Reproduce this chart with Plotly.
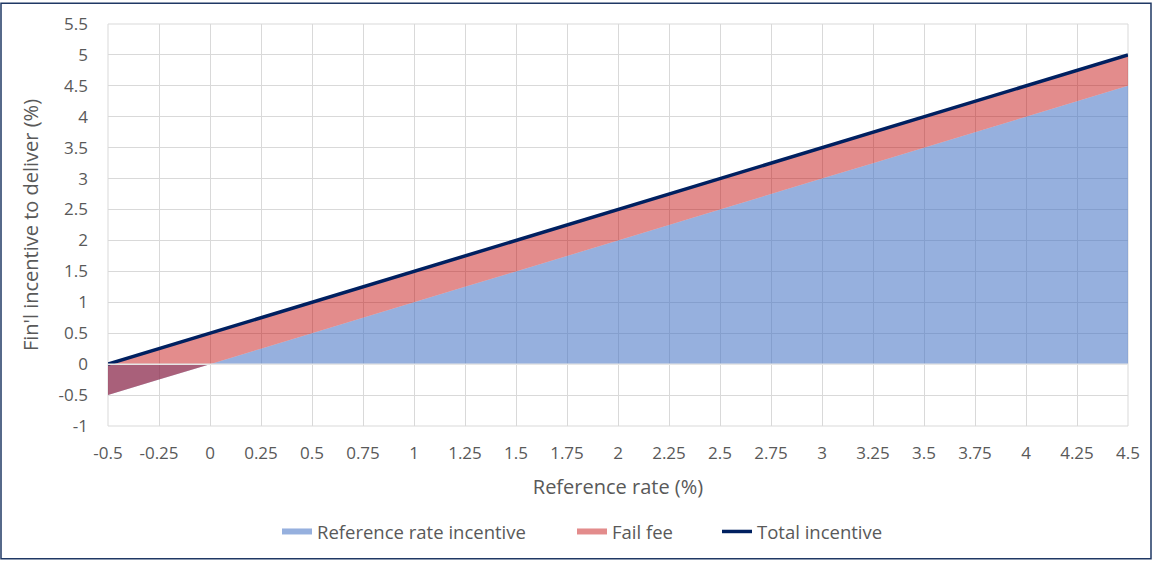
import plotly.graph_objects as go

# Reference rate (%) on the horizontal axis
reference_rate = [-0.5, -0.25, 0, 0.25, 0.5, 0.75, 1, 1.25, 1.5, 1.75, 2,
                  2.25, 2.5, 2.75, 3, 3.25, 3.5, 3.75, 4, 4.25, 4.5]
# Incentive components (%)
reference_rate_incentive = [-0.5, -0.25, 0, 0.25, 0.5, 0.75, 1, 1.25, 1.5, 1.75, 2,
                            2.25, 2.5, 2.75, 3, 3.25, 3.5, 3.75, 4, 4.25, 4.5]
fail_fee = [0.5] * 21
total_incentive = [0, 0.25, 0.5, 0.75, 1, 1.25, 1.5, 1.75, 2, 2.25, 2.5,
                   2.75, 3, 3.25, 3.5, 3.75, 4, 4.25, 4.5, 4.75, 5]

x_ticks = reference_rate
x_tick_labels = ["-0.5", "-0.25", "0", "0.25", "0.5", "0.75", "1", "1.25", "1.5", "1.75", "2",
                 "2.25", "2.5", "2.75", "3", "3.25", "3.5", "3.75", "4", "4.25", "4.5"]
y_ticks = [-1, -0.5, 0, 0.5, 1, 1.5, 2, 2.5, 3, 3.5, 4, 4.5, 5, 5.5]
y_tick_labels = ["-1", "-0.5", "0", "0.5", "1", "1.5", "2", "2.5", "3", "3.5", "4", "4.5", "5", "5.5"]

FONT = "Open Sans, Noto Sans, sans-serif"
TEXT = "#595959"
GRID = "#d9d9d9"

L, R, T, B = 108, 24, 22, 135
W, H = 1152, 563
pw, ph = W - L - R, H - T - B


def px_x(p):
    return (p - L) / pw


def px_y(p):
    return ((H - B) - p) / ph


fig = go.Figure()
fig.add_trace(go.Scatter(
    x=reference_rate, y=reference_rate_incentive, name="Reference rate incentive",
    stackgroup="inc", mode="none", fill="tozeroy",
    fillcolor="rgba(68,114,196,0.56)", legend="legend",
))
fig.add_trace(go.Scatter(
    x=reference_rate, y=fail_fee, name="Fail fee",
    stackgroup="inc", mode="none", fill="tonexty",
    fillcolor="rgba(192,0,0,0.45)", legend="legend2",
))
fig.add_trace(go.Scatter(
    x=reference_rate, y=total_incentive, name="Total incentive",
    mode="lines", line=dict(color="#002060", width=3.5), legend="legend3",
))

leg_common = dict(orientation="h", xanchor="left", yanchor="middle",
                  y=px_y(535), font=dict(size=18.5, color=TEXT),
                  bgcolor="rgba(0,0,0,0)", itemwidth=30)

fig.update_layout(
    width=W, height=H,
    margin=dict(l=L, r=R, t=T, b=B),
    paper_bgcolor="white", plot_bgcolor="white",
    font=dict(family=FONT, color=TEXT, size=17),
    showlegend=True,
    legend=dict(leg_common, x=px_x(277)),
    legend2=dict(leg_common, x=px_x(572)),
    legend3=dict(leg_common, x=px_x(717)),
    xaxis=dict(
        range=[-0.5, 4.5], tickvals=x_ticks, ticktext=x_tick_labels,
        showgrid=True, gridcolor=GRID, gridwidth=1,
        zeroline=False, showline=False, ticks="",
        tickfont=dict(size=17, color=TEXT), ticklabelstandoff=15,
        title=dict(text="Reference rate (%)", font=dict(size=20, color=TEXT), standoff=16),
    ),
    yaxis=dict(
        range=[-1, 5.5], tickvals=y_ticks, ticktext=y_tick_labels,
        showgrid=True, gridcolor=GRID, gridwidth=1,
        zeroline=False, showline=False, ticks="",
        tickfont=dict(size=17, color=TEXT), ticklabelstandoff=19,
        title=dict(text="Fin'l incentive to deliver (%)", font=dict(size=20, color=TEXT), standoff=14),
    ),
)

# Border lines of the plot area and horizontal axis at zero
fig.add_shape(type="rect", xref="paper", yref="paper", x0=0, x1=1, y0=0, y1=1,
              line=dict(color=GRID, width=1), layer="below")
fig.add_shape(type="line", xref="paper", yref="y", x0=0, x1=1, y0=0, y1=0,
              line=dict(color="#e6e6e6", width=1.5), layer="above")

# Outer chart frame
fig.add_shape(type="rect", xref="paper", yref="paper",
              x0=px_x(1), x1=px_x(W - 1), y0=px_y(H - 1), y1=px_y(1),
              line=dict(color="#1f3864", width=1.5), layer="above")

fig.write_html("out.html")
